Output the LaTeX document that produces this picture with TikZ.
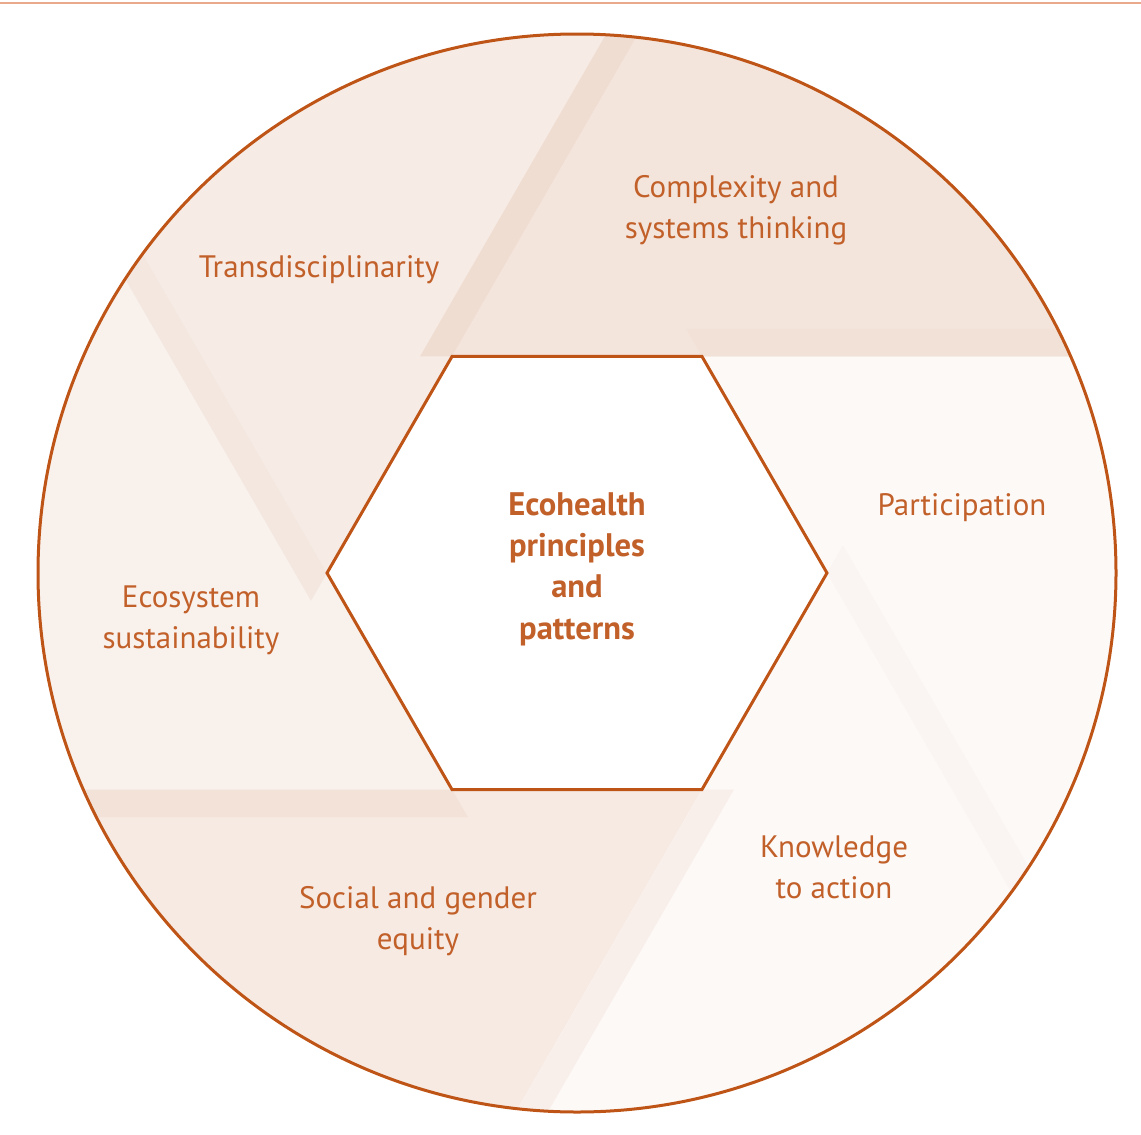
\documentclass[tikz,border=0pt]{standalone}
\usepackage{fontspec}
\setmainfont{PT Sans}
\usetikzlibrary{calc}
\definecolor{txt}{HTML}{C2602A}
\definecolor{edge}{HTML}{BF5417}
\definecolor{topc}{HTML}{E9A98A}
\definecolor{regP}{HTML}{FDF9F7}
\definecolor{stripP}{HTML}{FAF5F2}
\definecolor{regC}{HTML}{F4E5DC}
\definecolor{stripC}{HTML}{F2E1D7}
\definecolor{regT}{HTML}{F6EBE5}
\definecolor{stripT}{HTML}{F0DDD2}
\definecolor{regE}{HTML}{F9F1EC}
\definecolor{stripE}{HTML}{F4E7E0}
\definecolor{regS}{HTML}{F7EAE3}
\definecolor{stripS}{HTML}{F3E2D8}
\definecolor{regK}{HTML}{FDF9F7}
\definecolor{stripK}{HTML}{F9EFEA}
\begin{document}
\begin{tikzpicture}[x=0.5pt,y=-0.5pt,
  lbl/.style={text=txt, font=\fontsize{15.5}{20.5}\selectfont, align=center, inner sep=0pt},
  clbl/.style={lbl, font=\fontsize{16.3}{20.7}\selectfont\bfseries},
  outline/.style={draw=edge, line width=1.5pt, line join=miter},
  topline/.style={draw=topc, line width=1pt}]
\useasboundingbox (0,0) rectangle (1141,1135);
\coordinate (L0) at (0,3);
\coordinate (L1) at (1141,3);
\draw[topline] (L0) -- (L1);
\coordinate (C) at (577,573);
\begin{scope}
  \clip (C) circle (539);
  \foreach \k/\rc/\sc in {0/regP/stripP,1/regC/stripC,2/regT/stripT,3/regE/stripE,4/regS/stripS,5/regK/stripK}{
    \pgfmathsetmacro{\a}{-60*\k}
    \pgfmathsetmacro{\b}{-60*\k-60}
    \pgfmathsetmacro{\d}{-60*\k+60}
    \fill[\rc] ($(C)+(\b:250)$) -- ($(C)+(\a:250)$) -- ++(\d:1000)
       -- ($(C)+(\b:250)+(\a:1000)$) -- cycle;
  }
  \foreach \k/\rc/\sc in {0/regP/stripP,1/regC/stripC,2/regT/stripT,3/regE/stripE,4/regS/stripS,5/regK/stripK}{
    \pgfmathsetmacro{\a}{-60*\k}
    \pgfmathsetmacro{\b}{-60*\k-60}
    \pgfmathsetmacro{\d}{-60*\k+60}
    \pgfmathsetmacro{\e}{-60*\k-240}
    \fill[\sc] ($(C)+(\a:250)$) -- ++(\b:32) -- ++(\d:1000) -- ++(\e:32) -- cycle;
  }
\end{scope}
\draw[outline, fill=white] ($(C)+(0:250)$) -- ($(C)+(60:250)$) -- ($(C)+(120:250)$)
   -- ($(C)+(180:250)$) -- ($(C)+(240:250)$) -- ($(C)+(300:250)$) -- cycle;
\node[outline, circle, minimum size=539pt, inner sep=0pt, fill=none] (ring) at (C) {};
\node[clbl] (center) at (577,569) {Ecohealth\\principles\\and\\patterns};
\node[lbl] (complexity) at (736,210) {Complexity and\\systems thinking};
\node[lbl] (trans) at (319,270) {Transdisciplinarity};
\node[lbl] (partic) at (962,508) {Participation};
\node[lbl] (ecosys) at (191,620) {Ecosystem\\sustainability};
\node[lbl] (social) at (418,921) {Social and gender\\equity};
\node[lbl] (know) at (834,867) {Knowledge\\to action};
\end{tikzpicture}
\end{document}
